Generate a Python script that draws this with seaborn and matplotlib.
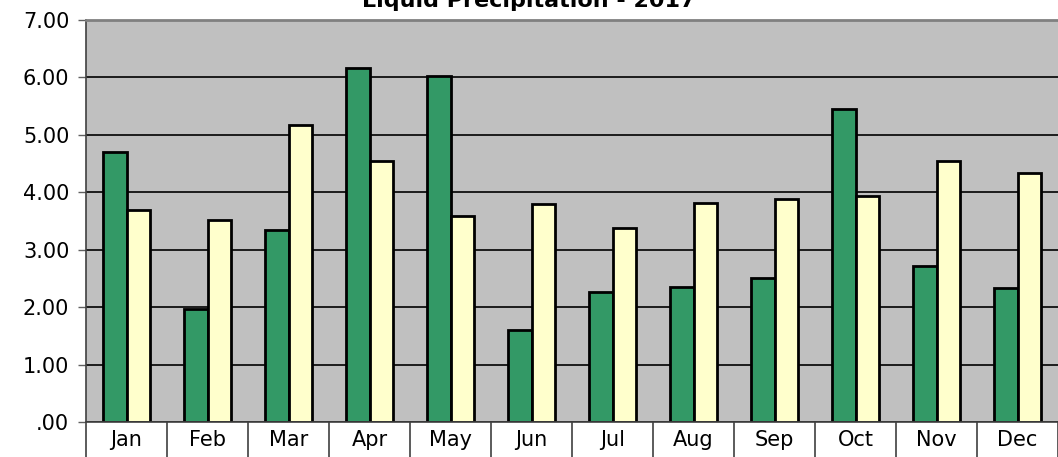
import pandas as pd
import matplotlib
matplotlib.use("Agg")
import matplotlib.pyplot as plt
import seaborn as sns

# Monthly liquid precipitation (inches)
months = ['Jan', 'Feb', 'Mar', 'Apr', 'May', 'Jun',
          'Jul', 'Aug', 'Sep', 'Oct', 'Nov', 'Dec']
precip_2017 = [4.70, 1.97, 3.35, 6.17, 6.03, 1.60,
               2.26, 2.35, 2.51, 5.45, 2.72, 2.34]
precip_normal = [3.69, 3.52, 5.17, 4.55, 3.59, 3.80,
                 3.38, 3.81, 3.89, 3.93, 4.55, 4.34]
y_ticks = [0, 1, 2, 3, 4, 5, 6, 7]
y_labels = ['.00', '1.00', '2.00', '3.00', '4.00', '5.00', '6.00', '7.00']

data = pd.DataFrame({
    'Month': months * 2,
    'Precip': precip_2017 + precip_normal,
    'Series': ['2017'] * 12 + ['Normal'] * 12,
})

sns.set_style('white')
plt.rcParams['font.family'] = ['DejaVu Sans']
plt.rcParams['text.color'] = 'black'
plt.rcParams['xtick.color'] = 'black'
plt.rcParams['ytick.color'] = 'black'

fig = plt.figure(figsize=(10.58, 4.57), dpi=100)
ax = fig.add_axes([86 / 1058, 35 / 457, 1 - 86 / 1058, 402 / 457])
ax.set_facecolor('#C0C0C0')

sns.barplot(data=data, x='Month', y='Precip', hue='Series', order=months,
            palette=['#339966', '#FFFFCC'], width=0.57, gap=0,
            edgecolor='black', linewidth=2, saturation=1, legend=False, ax=ax)

ax.set_ylim(0, 7)
ax.set_xlim(-0.5, 11.5)
ax.set_yticks(y_ticks)
ax.set_yticklabels(y_labels, fontsize=15)
ax.yaxis.grid(True, color='black', linewidth=1.2)
ax.set_axisbelow(True)
ax.tick_params(axis='y', length=6, width=1, color='#606060', pad=6, left=True,
               labelcolor='black')

# month separators hanging below the axis
ax.set_xticks([i - 0.5 for i in range(13)], minor=True)
ax.tick_params(axis='x', which='minor', length=30, width=1.2, color='#404040', bottom=True)
ax.tick_params(axis='x', which='major', length=0, labelsize=15, pad=6, labelcolor='black')

for side in ['left', 'bottom']:
    ax.spines[side].set_color('#404040')
    ax.spines[side].set_linewidth(1.2)
ax.spines['top'].set_color('#808080')
ax.spines['top'].set_linewidth(2)
ax.spines['right'].set_visible(False)

ax.set_xlabel('')
ax.set_ylabel('')
fig.text(0.5, 1.02, 'Liquid Precipitation - 2017', ha='center', va='top',
         fontsize=16, fontweight='bold', color='black')

fig.savefig('out.png', dpi=100)
